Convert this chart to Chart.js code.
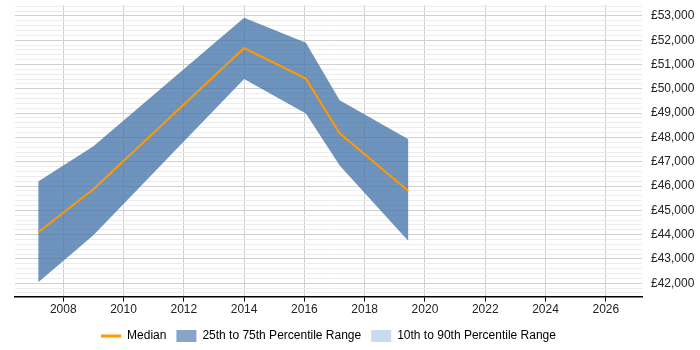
<!DOCTYPE html>
<html>
<head>
<meta charset="utf-8">
<script src="https://cdn.jsdelivr.net/npm/chart.js@4"></script>
<style>
  html, body { margin: 0; padding: 0; background: #fff; }
  #wrap { width: 700px; height: 350px; }
</style>
</head>
<body>
<div id="wrap"><canvas id="salary-chart"></canvas></div>
<script>
// data (x = year as decimal)
let years = [2007.17, 2009.0, 2014.0, 2016.05, 2017.17, 2019.45];
let median = [44100, 45870, 51680, 50420, 48170, 45800];
let pct75 = [46190, 47640, 52930, 51900, 49530, 47930];
let pct25 = [42040, 43970, 50400, 48980, 46850, 43740];
let legendLabels = ['Median', '25th to 75th Percentile Range', '10th to 90th Percentile Range'];

// axis ticks
let xTicks = [2008, 2010, 2012, 2014, 2016, 2018, 2020, 2022, 2024, 2026];
let yTicks = [42000, 43000, 44000, 45000, 46000, 47000, 48000, 49000, 50000, 51000, 52000, 53000];
let yMinorStep = 200;

let toPoints = (vals) => vals.map((v, i) => ({ x: years[i], y: v }));

// minor grid every 200 between the labelled ticks
let yGridValues = () => {
  let out = [];
  for (let v = yTicks[0] - 2 * yMinorStep; v <= yTicks[yTicks.length - 1] + 2 * yMinorStep; v += yMinorStep) {
    out.push(v);
  }
  return out;
};

// legend sits centred under the plot area, not the whole canvas
let centreLegend = {
  id: 'centreLegend',
  afterLayout: (chart) => {
    let lg = chart.legend;
    let area = chart.chartArea;
    if (!lg || !area) return;
    let shift = (area.left + area.right) / 2 - (lg.left + lg.right) / 2;
    lg.left += shift;
    lg.right += shift;
    lg.top += 2;
    lg.bottom += 2;
  }
};

let drawChart = () => {
  Chart.defaults.font.family = "'Liberation Sans', Arial, sans-serif";
  Chart.defaults.font.size = 12;
  Chart.defaults.color = '#222';

  new Chart(document.getElementById('salary-chart'), {
    type: 'line',
    data: {
      datasets: [
        {
          label: '25th',
          data: toPoints(pct25),
          borderWidth: 0,
          pointRadius: 0,
          fill: false,
          order: 2
        },
        {
          label: '75th',
          data: toPoints(pct75),
          borderWidth: 0,
          pointRadius: 0,
          backgroundColor: 'rgba(66,114,168,0.77)',
          fill: '-1',
          order: 1
        },
        {
          label: 'Median',
          data: toPoints(median),
          borderColor: '#ff9900',
          borderWidth: 2,
          pointRadius: 0,
          fill: false,
          order: 0
        }
      ]
    },
    options: {
      responsive: true,
      maintainAspectRatio: false,
      animation: false,
      layout: { padding: { top: 5, left: 15, right: 6, bottom: 0 } },
      scales: {
        x: {
          type: 'linear',
          min: 2006.4,
          max: 2027.2,
          afterBuildTicks: (scale) => {
            scale.ticks = xTicks.map(v => ({ value: v }));
          },
          ticks: {
            autoSkip: false,
            maxRotation: 0,
            padding: 1,
            callback: (v) => String(v)
          },
          grid: {
            color: '#cfcfcf',
            tickColor: '#000',
            tickLength: 5
          },
          border: { color: '#000', width: 1.5 }
        },
        y: {
          position: 'right',
          min: 41450,
          max: 53450,
          afterBuildTicks: (scale) => {
            scale.ticks = yGridValues()
              .filter(v => v >= scale.min && v <= scale.max)
              .map(v => ({ value: v }));
          },
          afterFit: (scale) => {
            scale.width = 52;
            scale.paddingTop = 0;
            scale.paddingBottom = 0;
          },
          ticks: {
            autoSkip: false,
            padding: 9,
            callback: (v) => yTicks.includes(v) ? '£' + v.toLocaleString('en-GB') : ''
          },
          grid: {
            drawTicks: false,
            color: (ctx) => ctx.tick && yTicks.includes(ctx.tick.value) ? '#d0d0d0' : '#ececec'
          },
          border: { display: false }
        }
      },
      plugins: {
        tooltip: { enabled: false },
        legend: {
          position: 'bottom',
          onClick: null,
          labels: {
            usePointStyle: true,
            pointStyleWidth: 20,
            boxHeight: 12,
            padding: 10,
            generateLabels: () => [
              { text: legendLabels[0], pointStyle: 'line', strokeStyle: '#ff9900', fillStyle: '#ff9900', lineWidth: 3 },
              { text: legendLabels[1], pointStyle: 'rect', strokeStyle: '#87a5c8', fillStyle: '#87a5c8', lineWidth: 0 },
              { text: legendLabels[2], pointStyle: 'rect', strokeStyle: '#c9dbee', fillStyle: '#c9dbee', lineWidth: 0 }
            ]
          }
        }
      }
    },
    plugins: [centreLegend]
  });
};

document.addEventListener('DOMContentLoaded', function () {
  drawChart();
});
</script>
</body>
</html>
